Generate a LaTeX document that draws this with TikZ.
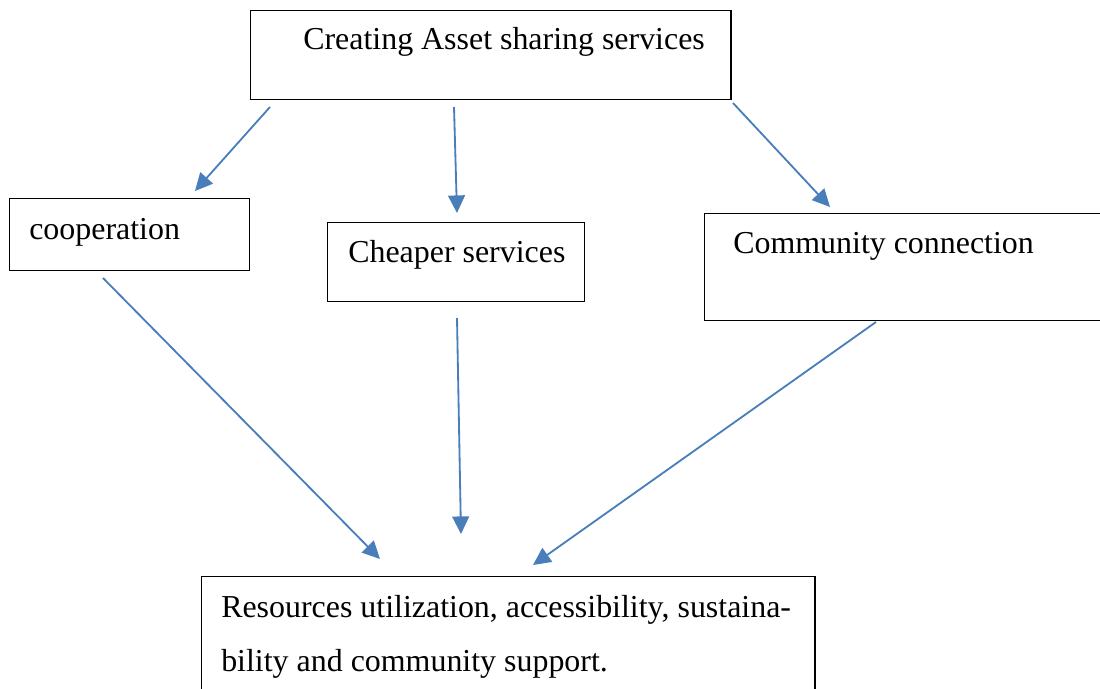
\documentclass[tikz,border=0pt]{standalone}
\usepackage{fontspec}
\setmainfont{Liberation Serif}
\usetikzlibrary{shapes,arrows.meta,positioning}
\definecolor{arrowblue}{RGB}{74,126,187}
\tikzset{
	box/.style={draw=black, line width=1pt, rectangle, anchor=north west, inner sep=0pt},
	txt/.style={anchor=base west, inner sep=0pt, font=\fontsize{22.7}{38.3}\selectfont},
	link/.style={draw, color=arrowblue, line width=1.3pt, -{Triangle[length=12.5pt,width=12pt]}}
}

\begin{document}
\begin{tikzpicture}[x=0.025cm, y=-0.025cm]
	\useasboundingbox (0,0) rectangle (1100,689);
	\clip (0,0) rectangle (1100,689);
	
	\node[box, minimum width=12cm, minimum height=2.225cm] (create) at (250,10) {};
	\node[box, minimum width=6cm, minimum height=1.8cm] (coop) at (9,198) {};
	\node[box, minimum width=6.425cm, minimum height=1.975cm] (cheap) at (327,222) {};
	\node[box, minimum width=10.5cm, minimum height=2.675cm] (commun) at (704,213) {};
	\node[box, minimum width=15.325cm, minimum height=3.75cm] (result) at (201,576) {};
	
	\node[txt] (create text) at (303,50) {Creating Asset sharing services};
	\node[txt] (coop text) at (29,240) {cooperation};
	\node[txt] (cheap text) at (348,263) {Cheaper services};
	\node[txt] (commun text) at (733,254) {Community connection};
	\node[txt, align=left] (result text) at (221,671) {Resources utilization, accessibility, sustaina-\\bility and community support.};
	
	\coordinate (c1) at (270,107);
	\coordinate (c2) at (454,107);
	\coordinate (c3) at (733,103);
	\coordinate (p1) at (195,191);
	\coordinate (p2) at (457,213);
	\coordinate (p3) at (830,207);
	\coordinate (q1) at (103,278);
	\coordinate (q2) at (457,318);
	\coordinate (q3) at (876,322);
	\coordinate (r1) at (380,559);
	\coordinate (r2) at (461,534);
	\coordinate (r3) at (533,565);
	
	\path (c1) edge [link] (p1);
	\path (c2) edge [link] (p2);
	\path (c3) edge [link] (p3);
	\path (q1) edge [link] (r1);
	\path (q2) edge [link] (r2);
	\path (q3) edge [link] (r3);
\end{tikzpicture}
\end{document}
